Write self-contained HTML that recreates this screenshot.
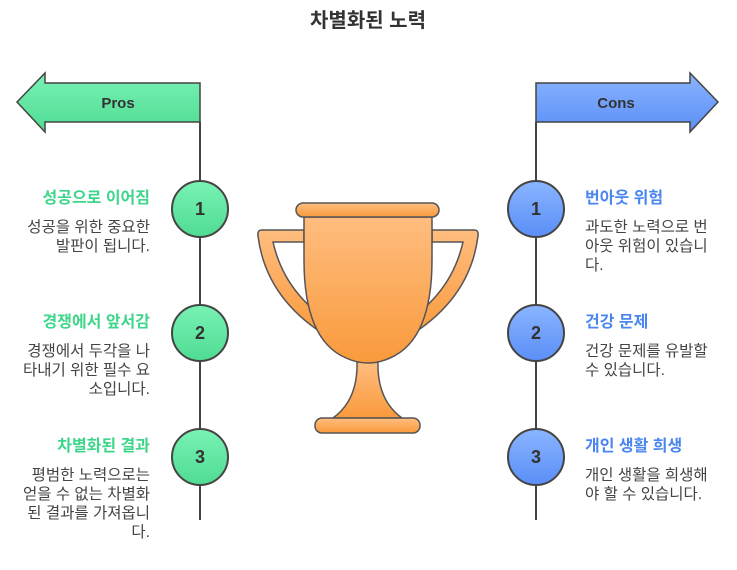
<!DOCTYPE html>
<html><head><meta charset="utf-8"><style>
html,body{margin:0;padding:0;background:#fff;}
svg text{font-family:"Liberation Sans","Noto Sans CJK KR",sans-serif;}
</style></head><body>
<svg width="737" height="565" viewBox="0 0 737 565" xmlns="http://www.w3.org/2000/svg">
<defs>
<linearGradient id="g" x1="0" y1="0" x2="0" y2="1"><stop offset="0" stop-color="#79f2b4"/><stop offset="1" stop-color="#4fdc93"/></linearGradient>
<linearGradient id="b" x1="0" y1="0" x2="0" y2="1"><stop offset="0" stop-color="#8ab4ff"/><stop offset="1" stop-color="#5b8ff7"/></linearGradient>
<linearGradient id="o" x1="0" y1="0" x2="0" y2="1"><stop offset="0" stop-color="#ffbd7f"/><stop offset="1" stop-color="#f99a3c"/></linearGradient>
</defs>
<text x="368" y="27" text-anchor="middle" font-size="20" font-weight="bold" fill="#333">차별화된 노력</text>

<g stroke="#444" stroke-width="2">
<line x1="200" y1="122" x2="200" y2="520"/>
<line x1="536" y1="122" x2="536" y2="520"/>
</g>
<path d="M17 102 L45 73 L45 83 L200 83 L200 122 L45 122 L45 132 Z" fill="url(#g)" stroke="#444" stroke-width="1.5"/>
<text x="118" y="108" text-anchor="middle" font-size="15" font-weight="bold" fill="#333">Pros</text>
<path d="M718 102 L690 73 L690 83 L536 83 L536 122 L690 122 L690 132 Z" fill="url(#b)" stroke="#444" stroke-width="1.5"/>
<text x="616" y="108" text-anchor="middle" font-size="15" font-weight="bold" fill="#333">Cons</text>

<g stroke="#444" stroke-width="2">
<circle cx="200" cy="209" r="28" fill="url(#g)"/>
<circle cx="200" cy="333" r="28" fill="url(#g)"/>
<circle cx="200" cy="457" r="28" fill="url(#g)"/>
<circle cx="536" cy="209" r="28" fill="url(#b)"/>
<circle cx="536" cy="333" r="28" fill="url(#b)"/>
<circle cx="536" cy="457" r="28" fill="url(#b)"/>
</g>
<g font-size="18" font-weight="bold" fill="#333" text-anchor="middle">
<text x="200" y="215">1</text><text x="200" y="339">2</text><text x="200" y="463">3</text>
<text x="536" y="215">1</text><text x="536" y="339">2</text><text x="536" y="463">3</text>
</g>

<g text-anchor="end" font-size="15.5" fill="#444">
<text x="150" y="203" font-size="16" font-weight="bold" fill="#3ed68a">성공으로 이어짐</text>
<text x="150" y="232">성공을 위한 중요한</text>
<text x="150" y="251">발판이 됩니다.</text>
<text x="150" y="327" font-size="16" font-weight="bold" fill="#3ed68a">경쟁에서 앞서감</text>
<text x="150" y="356">경쟁에서 두각을 나</text>
<text x="150" y="375">타내기 위한 필수 요</text>
<text x="150" y="394">소입니다.</text>
<text x="150" y="451" font-size="16" font-weight="bold" fill="#3ed68a">차별화된 결과</text>
<text x="150" y="480">평범한 노력으로는</text>
<text x="150" y="499">얻을 수 없는 차별화</text>
<text x="150" y="518">된 결과를 가져옵니</text>
<text x="150" y="537">다.</text>
</g>
<g font-size="15.5" fill="#444">
<text x="585" y="203" font-size="16" font-weight="bold" fill="#4a86f0">번아웃 위험</text>
<text x="585" y="232">과도한 노력으로 번</text>
<text x="585" y="251">아웃 위험이 있습니</text>
<text x="585" y="270">다.</text>
<text x="585" y="327" font-size="16" font-weight="bold" fill="#4a86f0">건강 문제</text>
<text x="585" y="356">건강 문제를 유발할</text>
<text x="585" y="375">수 있습니다.</text>
<text x="585" y="451" font-size="16" font-weight="bold" fill="#4a86f0">개인 생활 희생</text>
<text x="585" y="480">개인 생활을 희생해</text>
<text x="585" y="499">야 할 수 있습니다.</text>
</g>

<g fill="url(#o)" stroke="#555" stroke-width="1.5" stroke-linejoin="round">
<path d="M304 230 L262 230 Q257 230 258 236 Q266 300 330 338 L335 325 Q285 295 273 242 L304 242 Z"/>
<path d="M432 230 L474 230 Q479 230 478 236 Q470 300 406 338 L401 325 Q451 295 463 242 L432 242 Z"/>
<path d="M357 362 Q358 400 333 418 L402 418 Q377 400 378 362 Z"/>
<path d="M304 217 L432 217 L432 260 Q432 340 390 358 Q368 368 346 358 Q304 340 304 260 Z"/>
<rect x="296" y="203" width="143" height="14" rx="7"/>
<rect x="315" y="418" width="105" height="15" rx="7"/>
</g>
</svg>
</body></html>
